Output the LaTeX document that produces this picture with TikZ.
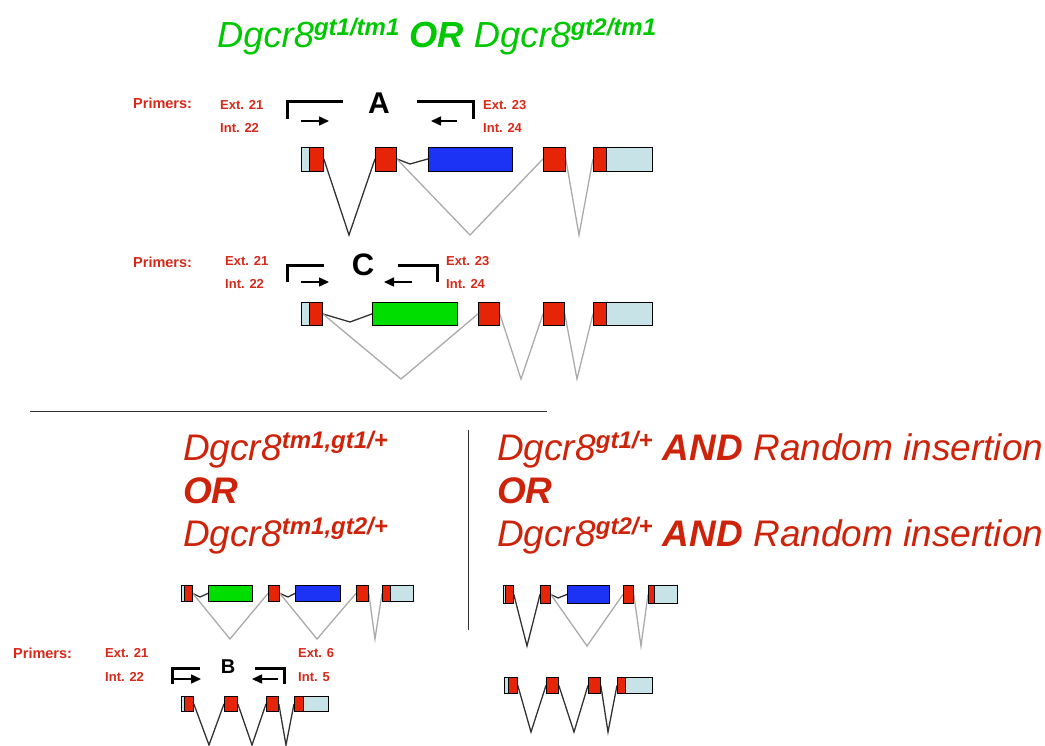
\documentclass[tikz,border=0pt]{standalone}
\usepackage{fontspec}
\setmainfont{Liberation Sans}
\usetikzlibrary{arrows.meta,backgrounds}
\definecolor{exred}{RGB}{230,36,8}
\definecolor{exblue}{RGB}{28,50,245}
\definecolor{exgreen}{RGB}{0,222,0}
\definecolor{exlight}{RGB}{200,227,232}
\definecolor{labred}{RGB}{215,40,25}
\definecolor{bigred}{RGB}{205,35,10}
\definecolor{titlegreen}{RGB}{0,200,0}
\definecolor{lndark}{RGB}{50,50,50}
\definecolor{lngray}{RGB}{170,170,170}
\newcommand\gsup[1]{\raisebox{12pt}{\fontsize{24}{24}\selectfont\bfseries\itshape #1}}
\begin{document}
\begin{tikzpicture}[x=1pt,y=-1pt,
  ex/.style={draw=black, line width=0.8pt, inner sep=0pt, anchor=north west},
  redx/.style={ex, fill=exred},
  bluex/.style={ex, fill=exblue},
  greenx/.style={ex, fill=exgreen},
  ltx/.style={ex, fill=exlight},
  hA/.style={minimum height=24pt},
  hC/.style={minimum height=23pt},
  hL/.style={minimum height=16pt},
  hB/.style={minimum height=15pt},
  hR/.style={minimum height=18pt},
  hS/.style={minimum height=16pt},
  w/.style={minimum width=#1pt},
  darkln/.style={draw=lndark, line width=1.3pt},
  grayln/.style={draw=lngray, line width=1.3pt},
  brk/.style={line width=3pt},
  parr/.style={-{Triangle[length=10pt,width=9pt]}, line width=1.5pt},
  lbl/.style={font=\fontsize{13}{13}\selectfont\bfseries, text=labred, anchor=west, inner sep=0pt},
  plbl/.style={font=\fontsize{14.5}{14.5}\selectfont\bfseries, text=labred, anchor=west, inner sep=0pt},
  big/.style={font=\fontsize{37}{40}\selectfont, text=bigred, anchor=base west, inner sep=0pt},
  pcr/.style={font=\bfseries, anchor=center, inner sep=0pt},
]
\useasboundingbox (0,0) rectangle (1045,745);

% title
\node[font=\fontsize{36.3}{40}\selectfont, text=titlegreen, anchor=base west, inner sep=0pt] (title) at (217,47)
  {\textit{Dgcr8}\gsup{gt1/tm1} \textbf{\textit{OR}} \textit{Dgcr8}\gsup{gt2/tm1}};

% ---------- section A ----------
\node[plbl] (pA) at (133,103) {Primers:};
\node[lbl] (eA1) at (220,105) {Ext. 21};
\node[lbl] (iA1) at (220,128) {Int. 22};
\node[lbl] (eA2) at (483,105) {Ext. 23};
\node[lbl] (iA2) at (483,128) {Int. 24};
\node[pcr, font=\fontsize{30}{30}\selectfont\bfseries] (lA) at (379,103) {A};
\draw[brk] (287,119) -- (287,101) -- (343,101);
\draw[brk] (417,101) -- (473,101) -- (473,119);
\coordinate (aAs) at (301,121); \coordinate (aAe) at (329,121);
\coordinate (aBs) at (457,121); \coordinate (aBe) at (431,121);
\draw[parr] (aAs) -- (aAe);
\draw[parr] (aBs) -- (aBe);

\node[ltx, hA, w=8] (a1l) at (301,146.5) {};
\node[redx, hA, w=14] (a1r) at (309,146.5) {};
\node[redx, hA, w=21] (a2) at (375,146.5) {};
\node[bluex, hA, w=84] (a3) at (428,146.5) {};
\node[redx, hA, w=22] (a4) at (543,146.5) {};
\node[redx, hA, w=13] (a5r) at (593,146.5) {};
\node[ltx, hA, w=46] (a5l) at (606,146.5) {};
\coordinate (va1) at (349,235);
\coordinate (va2) at (470,235);
\coordinate (va3) at (579,235);
\coordinate (da1) at (410,164);

% ---------- section C ----------
\node[plbl] (pC) at (133,262) {Primers:};
\node[lbl] (eC1) at (225,261) {Ext. 21};
\node[lbl] (iC1) at (225,284) {Int. 22};
\node[lbl] (eC2) at (446,261) {Ext. 23};
\node[lbl] (iC2) at (446,284) {Int. 24};
\node[pcr, font=\fontsize{31}{31}\selectfont\bfseries] (lC) at (363,265) {C};
\draw[brk] (287,282) -- (287,265) -- (324,265);
\draw[brk] (398,265) -- (437,265) -- (437,282);
\coordinate (cAs) at (301,282); \coordinate (cAe) at (329,282);
\coordinate (cBs) at (412,282); \coordinate (cBe) at (384,282);
\draw[parr] (cAs) -- (cAe);
\draw[parr] (cBs) -- (cBe);

\node[ltx, hC, w=8] (c1l) at (301,302) {};
\node[redx, hC, w=13] (c1r) at (309,302) {};
\node[greenx, hC, w=85] (c2) at (372,302) {};
\node[redx, hC, w=21] (c3) at (478,302) {};
\node[redx, hC, w=21] (c4) at (543,302) {};
\node[redx, hC, w=13] (c5r) at (593,302) {};
\node[ltx, hC, w=46] (c5l) at (606,302) {};
\coordinate (vc1) at (401,379);
\coordinate (vc2) at (521,379);
\coordinate (vc3) at (577,379);
\coordinate (dc1) at (350,322);

% separators
\coordinate (hs1) at (30,411); \coordinate (hs2) at (547,411);
\coordinate (vs1) at (468,430); \coordinate (vs2) at (468,630);
\draw[lndark, line width=0.9pt] (hs1) -- (hs2);
\draw[lndark, line width=0.9pt] (vs1) -- (vs2);

% bottom texts
\node[big] (tl1) at (183,460) {\textit{Dgcr8}\gsup{tm1,gt1/+}};
\node[big] (tl2) at (183,503) {\textbf{\textit{OR}}};
\node[big] (tl3) at (183,546) {\textit{Dgcr8}\gsup{tm1,gt2/+}};
\node[big] (tr1) at (497,460) {\textit{Dgcr8}\gsup{gt1/+} \textbf{\textit{AND}} \textit{Random insertion}};
\node[big] (tr2) at (497,503) {\textbf{\textit{OR}}};
\node[big] (tr3) at (497,546) {\textit{Dgcr8}\gsup{gt2/+} \textbf{\textit{AND}} \textit{Random insertion}};

% ---------- bottom left ----------
\node[ltx, hL, w=3] (l1l) at (181,585) {};
\node[redx, hL, w=8] (l1r) at (184,585) {};
\node[greenx, hL, w=44] (l2) at (208,585) {};
\node[redx, hL, w=11] (l3) at (268,585) {};
\node[bluex, hL, w=45] (l4) at (295,585) {};
\node[redx, hL, w=12] (l5) at (356,585) {};
\node[redx, hL, w=8] (l6r) at (382,585) {};
\node[ltx, hL, w=23] (l6l) at (390,585) {};
\coordinate (vl1) at (230,639);
\coordinate (vl2) at (317,639);
\coordinate (vl3) at (375,639);
\coordinate (dl1) at (200,597);
\coordinate (dl2) at (288,597);

\node[plbl] (pB) at (13,653) {Primers:};
\node[lbl] (eB1) at (105,653) {Ext. 21};
\node[lbl] (iB1) at (105,677) {Int. 22};
\node[lbl] (eB2) at (298,653) {Ext. 6};
\node[lbl] (iB2) at (298,677) {Int. 5};
\node[pcr, font=\fontsize{20}{20}\selectfont\bfseries] (lB) at (228,667) {B};
\draw[brk] (172,684) -- (172,668) -- (200,668);
\draw[brk] (255,668) -- (284,668) -- (284,684);
\coordinate (bAs) at (172,679); \coordinate (bAe) at (201,679);
\coordinate (bBs) at (278,679); \coordinate (bBe) at (252,679);
\draw[parr] (bAs) -- (bAe);
\draw[parr] (bBs) -- (bBe);

\node[ltx, hB, w=3] (b1l) at (181,696) {};
\node[redx, hB, w=9] (b1r) at (184,696) {};
\node[redx, hB, w=13] (b2) at (224,696) {};
\node[redx, hB, w=12] (b3) at (266,696) {};
\node[redx, hB, w=9] (b4r) at (294,696) {};
\node[ltx, hB, w=25] (b4l) at (303,696) {};
\coordinate (vb1) at (209,745);
\coordinate (vb2) at (252,745);
\coordinate (vb3) at (286,745);

% ---------- bottom right ----------
\node[ltx, hR, w=2] (r1l) at (503,585) {};
\node[redx, hR, w=8] (r1r) at (505,585) {};
\node[redx, hR, w=10] (r2) at (540,585) {};
\node[bluex, hR, w=42] (r3) at (567,585) {};
\node[redx, hR, w=10] (r4) at (623,585) {};
\node[redx, hR, w=6] (r5r) at (648,585) {};
\node[ltx, hR, w=23] (r5l) at (654,585) {};
\coordinate (vr1) at (527,646);
\coordinate (vr2) at (587,646);
\coordinate (vr3) at (641,646);
\coordinate (dr1) at (558,598);

\node[ltx, hS, w=4] (s1l) at (504,677) {};
\node[redx, hS, w=9] (s1r) at (508,677) {};
\node[redx, hS, w=12] (s2) at (546,677) {};
\node[redx, hS, w=12] (s3) at (588,677) {};
\node[redx, hS, w=8] (s4r) at (617,677) {};
\node[ltx, hS, w=27] (s4l) at (625,677) {};
\coordinate (vs_1) at (531,732);
\coordinate (vs_2) at (574,732);
\coordinate (vs_3) at (608,732);

% ---------- connectors (behind exons) ----------
\begin{pgfonlayer}{background}
\draw[darkln] (a1r.east) -- (va1) -- (a2.west);
\draw[darkln] (a2.east) -- (da1) -- (a3.west);
\draw[grayln] (a2.east) -- (va2) -- (a4.west);
\draw[grayln] (a4.east) -- (va3) -- (a5r.west);

\draw[darkln] (c1r.east) -- (dc1) -- (c2.west);
\draw[grayln] (c1r.east) -- (vc1) -- (c3.west);
\draw[grayln] (c3.east) -- (vc2) -- (c4.west);
\draw[grayln] (c4.east) -- (vc3) -- (c5r.west);

\draw[darkln] (l1r.east) -- (dl1) -- (l2.west);
\draw[grayln] (l1r.east) -- (vl1) -- (l3.west);
\draw[darkln] (l3.east) -- (dl2) -- (l4.west);
\draw[grayln] (l3.east) -- (vl2) -- (l5.west);
\draw[grayln] (l5.east) -- (vl3) -- (l6r.west);

\draw[darkln] (b1r.east) -- (vb1) -- (b2.west);
\draw[darkln] (b2.east) -- (vb2) -- (b3.west);
\draw[darkln] (b3.east) -- (vb3) -- (b4r.west);

\draw[darkln] (r1r.east) -- (vr1) -- (r2.west);
\draw[darkln] (r2.east) -- (dr1) -- (r3.west);
\draw[grayln] (r2.east) -- (vr2) -- (r4.west);
\draw[grayln] (r4.east) -- (vr3) -- (r5r.west);

\draw[darkln] (s1r.east) -- (vs_1) -- (s2.west);
\draw[darkln] (s2.east) -- (vs_2) -- (s3.west);
\draw[darkln] (s3.east) -- (vs_3) -- (s4r.west);
\end{pgfonlayer}
\end{tikzpicture}
\end{document}
